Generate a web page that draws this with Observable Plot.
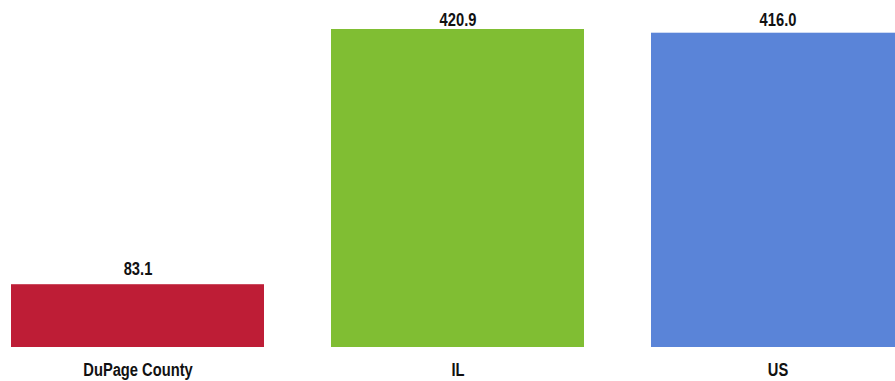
<!DOCTYPE html>
<html>
<head>
<meta charset="utf-8">
<script src="https://cdn.jsdelivr.net/npm/d3@7"></script>
<script src="https://cdn.jsdelivr.net/npm/@observablehq/plot@0.6"></script>
<style>
  html, body { margin: 0; padding: 0; background: #fff; overflow: hidden; }
  #chart svg { max-width: none !important; }
</style>
</head>
<body>
<div id="chart"></div>
<script>
const categories = ["DuPage County", "IL", "US"];
const values = [83.1, 420.9, 416.0];
const labels = ["83.1", "420.9", "416.0"];
const colors = ["#BE1D36", "#80BE33", "#5A84D8"];

// layout settings
const yDomain = [0, 420.9];
const yRange = [347, 29];
const labelGap = 10;       // px between bar top and value label baseline
const labelMinBase = 25.5; // value labels are not drawn higher than this baseline (px)

const yPx = d3.scaleLinear().domain(yDomain).range(yRange);
const data = categories.map((c, i) => ({
  category: c,
  value: values[i],
  label: labels[i],
  color: colors[i],
  labelY: Math.min(values[i], yPx.invert(labelMinBase + labelGap))
}));

const font = "'Liberation Sans Narrow', 'Arial Narrow', 'Liberation Sans', Arial, sans-serif";

const chart = Plot.plot({
  width: 906,
  height: 381,
  marginLeft: 10,
  marginRight: 0,
  marginTop: 0,
  marginBottom: 34,
  style: {fontFamily: font, background: "#fff"},
  x: {domain: categories, paddingInner: 0.2087, paddingOuter: 0, label: null},
  y: {domain: yDomain, range: yRange, axis: null},
  marks: [
    Plot.barY(data, {x: "category", y: "value", fill: "color"}),
    Plot.text(data, {x: "category", y: "labelY", text: "label", dy: -labelGap, fontSize: 17.5, fontWeight: "bold", fill: "#111", lineAnchor: "bottom"}),
    Plot.axisX({tickSize: 0, tickPadding: 16, fontSize: 17.5, fontWeight: "bold", color: "#111", label: null})
  ]
});
chart.querySelectorAll("text").forEach(t => t.style.fontFamily = font);
document.getElementById("chart").appendChild(chart);
// condense the labels to mimic the narrow typeface of the reference
chart.querySelectorAll("text").forEach(t => {
  const len = t.getComputedTextLength();
  if (len > 0) {
    t.setAttribute("textLength", (len * 0.84).toFixed(1));
    t.setAttribute("lengthAdjust", "spacingAndGlyphs");
  }
});
</script>
</body>
</html>
